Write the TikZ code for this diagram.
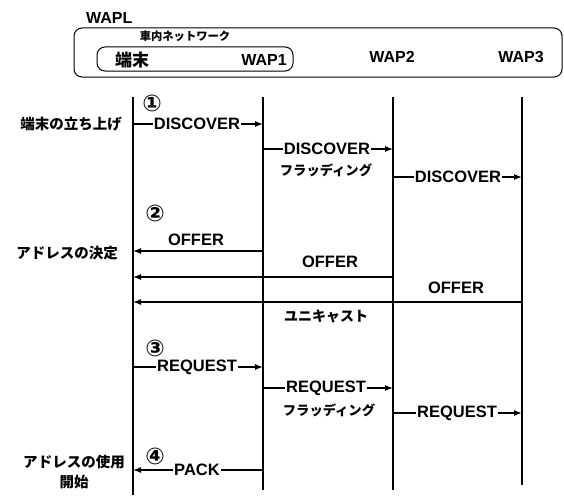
\documentclass[tikz,border=0pt]{standalone}
\usepackage{fontspec}
\setmainfont{Liberation Sans}
\newfontfamily\jp{Noto Sans CJK JP}
\newfontfamily\circfont{DejaVu Sans}
\usetikzlibrary{arrows.meta}
\tikzset{
  life/.style={line width=1.6pt},
  msg/.style={line width=1.3pt,-{Latex[length=8pt,width=6pt]}},
  lbl/.style={font=\bfseries\fontsize{16.5}{18}\selectfont,fill=white,inner xsep=1pt,inner ysep=0pt},
  lblp/.style={font=\bfseries\fontsize{16.5}{18}\selectfont,inner sep=0pt},
  hdr/.style={font=\bfseries\fontsize{16}{18}\selectfont,inner sep=0pt},
  jtx/.style={font=\jp\bfseries\fontsize{14.5}{17}\selectfont,inner sep=0pt},
  num/.style={font=\circfont\bfseries\fontsize{23}{25}\selectfont,inner sep=0pt},
  box/.style={draw,line width=1pt,rounded corners=8pt}
}
\begin{document}
\begin{tikzpicture}[x=1pt,y=-1pt]
\useasboundingbox (0,0) rectangle (564,495);
% header
\node[hdr,anchor=west] (wapl) at (86,18) {WAPL};
\draw[box] (74,28) rectangle (562,77);
\draw[box] (97,47) rectangle (293,71);
\node[font=\jp\bfseries\fontsize{11.3}{13}\selectfont,inner sep=0pt] (net) at (185,36) {車内ネットワーク};
\node[font=\jp\bfseries\fontsize{17}{19}\selectfont,inner sep=0pt] (tm) at (132,60) {端末};
\node[hdr] (h1) at (264,60) {WAP1};
\node[hdr] (h2) at (392,57) {WAP2};
\node[hdr] (h3) at (521,57) {WAP3};
% lifelines
\coordinate (L0t) at (133,97); \coordinate (L0b) at (133,495);
\coordinate (L1t) at (263,97); \coordinate (L1b) at (263,490);
\coordinate (L2t) at (393,97); \coordinate (L2b) at (393,490);
\coordinate (L3t) at (522,97); \coordinate (L3b) at (522,485);
\draw[life] (L0t) -- (L0b);
\draw[life] (L1t) -- (L1b);
\draw[life] (L2t) -- (L2b);
\draw[life] (L3t) -- (L3b);
% step 1
\node[num] (n1) at (152,103) {①};
\node[jtx,anchor=east] (s1) at (122,124) {端末の立ち上げ};
\coordinate (y1) at (0,124);
\draw[msg] (L0t |- y1) -- (L1t |- y1);
\node[lbl] (d1) at (197,124) {DISCOVER};
\coordinate (y2) at (0,149);
\draw[msg] (L1t |- y2) -- (L2t |- y2);
\node[lbl] (d2) at (327,149) {DISCOVER};
\node[jtx,font=\jp\bfseries\fontsize{13.3}{15}\selectfont] (f1) at (326,170) {フラッディング};
\coordinate (y3) at (0,177);
\draw[msg] (L2t |- y3) -- (L3t |- y3);
\node[lbl] (d3) at (458,177) {DISCOVER};
% step 2
\node[num] (n2) at (155,213) {②};
\node[jtx,anchor=east] (s2) at (118,253) {アドレスの決定};
\coordinate (y4) at (0,251);
\draw[msg] (L1t |- y4) -- (L0t |- y4);
\node[lblp] (o1) at (196,240) {OFFER};
\coordinate (y5) at (0,277);
\draw[msg] (L2t |- y5) -- (L0t |- y5);
\node[lblp] (o2) at (330,262) {OFFER};
\coordinate (y6) at (0,302);
\draw[msg] (L3t |- y6) -- (L0t |- y6);
\node[lblp] (o3) at (456,288) {OFFER};
\node[jtx,font=\jp\bfseries\fontsize{14}{16}\selectfont] (u1) at (326,316) {ユニキャスト};
% step 3
\node[num] (n3) at (155,348) {③};
\coordinate (y7) at (0,367);
\draw[msg] (L0t |- y7) -- (L1t |- y7);
\node[lbl] (r1) at (197,367) {REQUEST};
\coordinate (y8) at (0,388);
\draw[msg] (L1t |- y8) -- (L2t |- y8);
\node[lbl] (r2) at (326,388) {REQUEST};
\node[jtx,font=\jp\bfseries\fontsize{13.3}{15}\selectfont] (f2) at (329,410) {フラッディング};
\coordinate (y9) at (0,413);
\draw[msg] (L2t |- y9) -- (L3t |- y9);
\node[lbl] (r3) at (457,413) {REQUEST};
% step 4
\node[num] (n4) at (155,456) {④};
\coordinate (y10) at (0,470);
\draw[msg] (L1t |- y10) -- (L0t |- y10);
\node[lbl] (p1) at (197,470) {PACK};
\node[jtx,align=center,font=\jp\bfseries\fontsize{14.5}{20}\selectfont] (s4) at (74,472) {アドレスの使用\\開始};
\end{tikzpicture}
\end{document}
